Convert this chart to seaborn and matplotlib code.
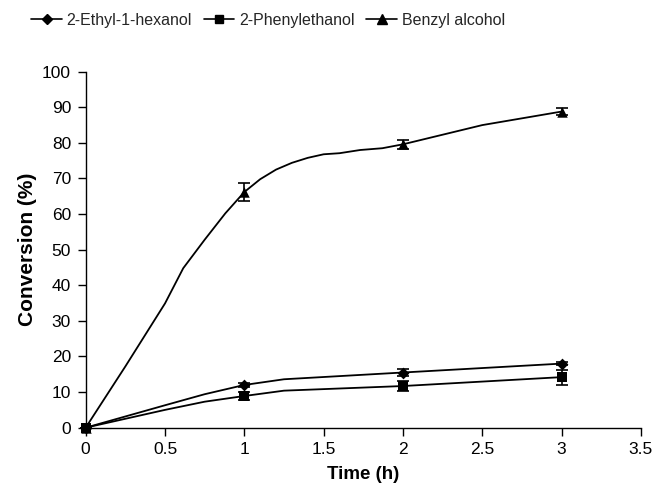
import matplotlib
matplotlib.use("Agg")
import matplotlib.pyplot as plt
from matplotlib.lines import Line2D
import seaborn as sns
import pandas as pd

# Measured points (with error bars)
time_points = [0, 1, 2, 3]
ethyl_vals = [0, 12.0, 15.5, 18.0]
ethyl_err = [0, 0.6, 1.1, 0.5]
phenyl_vals = [0, 8.9, 11.7, 14.2]
phenyl_err = [0, 1.2, 1.5, 2.1]
benzyl_vals = [0, 66.2, 79.6, 88.8]
benzyl_err = [0, 2.5, 1.2, 0.9]

# Trend lines
ethyl_curve_t = [0, 0.5, 0.75, 1.0, 1.25, 2.0, 3.0]
ethyl_curve_y = [0, 6.3, 9.4, 12.0, 13.6, 15.5, 18.0]
phenyl_curve_t = [0, 0.5, 0.75, 1.0, 1.25, 2.0, 3.0]
phenyl_curve_y = [0, 5.0, 7.3, 8.9, 10.4, 11.7, 14.2]
benzyl_curve_t = [0, 0.25, 0.5, 0.615, 0.75, 0.88, 1.0, 1.1, 1.2, 1.3, 1.4, 1.5, 1.6, 1.73, 1.87, 2.0, 2.5, 3.0]
benzyl_curve_y = [0, 17.2, 34.9, 44.8, 52.8, 60.2, 66.2, 69.8, 72.5, 74.4, 75.8, 76.8, 77.1, 78.0, 78.5, 79.6, 85.0, 88.8]

names = ["2-Ethyl-1-hexanol", "2-Phenylethanol", "Benzyl alcohol"]
markers = ["D", "s", "^"]
msizes = [6, 6.5, 7.5]

sns.set_theme(style="white")
plt.rcParams['font.family'] = ['Liberation Sans', 'DejaVu Sans']

fig = plt.figure(figsize=(6.57, 4.86), dpi=100)
ax = fig.add_axes([0.1304, 0.12, 0.9756 - 0.1304, 0.8525 - 0.12])

curves = [(ethyl_curve_t, ethyl_curve_y), (phenyl_curve_t, phenyl_curve_y), (benzyl_curve_t, benzyl_curve_y)]
points = [(ethyl_vals, ethyl_err), (phenyl_vals, phenyl_err), (benzyl_vals, benzyl_err)]

for (ct, cy), (v, e), m, ms in zip(curves, points, markers, msizes):
    df = pd.DataFrame({"t": ct, "y": cy})
    sns.lineplot(data=df, x="t", y="y", ax=ax, color="black", linewidth=1.3,
                 sort=False, estimator=None, legend=False)
    ax.errorbar(time_points, v, yerr=e, fmt="none", ecolor="black",
                elinewidth=1.2, capsize=4.5, capthick=1.2, clip_on=False, zorder=3)
    dfp = pd.DataFrame({"t": time_points, "y": v})
    sns.scatterplot(data=dfp, x="t", y="y", ax=ax, marker=m, s=ms**2, color="black",
                    edgecolor="black", linewidth=0, clip_on=False, zorder=4, legend=False)

ax.set_xlim(0, 3.5)
ax.set_ylim(0, 100)
ax.set_xticks([0, 0.5, 1, 1.5, 2, 2.5, 3, 3.5])
ax.set_xticklabels(["0", "0.5", "1", "1.5", "2", "2.5", "3", "3.5"])
ax.set_yticks(range(0, 101, 10))
ax.tick_params(axis="both", direction="out", length=5.5, width=1, color="black",
               labelsize=12.5, labelcolor="black", bottom=True, left=True, pad=5)
for s in ["top", "right"]:
    ax.spines[s].set_visible(False)
for s in ["left", "bottom"]:
    ax.spines[s].set_color("black")
    ax.spines[s].set_linewidth(1)
ax.set_xlabel("Time (h)", fontsize=13.5, fontweight="bold", color="black", labelpad=6)
ax.set_ylabel("Conversion (%)", fontsize=15, fontweight="bold", color="black", labelpad=4)

handles = [Line2D([0], [0], color="black", lw=1.2, marker=m, markersize=ms * 0.9,
                  markerfacecolor="black", markeredgecolor="black")
           for m, ms in zip(markers, msizes)]
fig.legend(handles, names, loc="upper center", bbox_to_anchor=(0.408, 1.003), ncol=3,
           frameon=False, fontsize=11.5, handlelength=1.9, handletextpad=0.3,
           columnspacing=0.75)

fig.savefig("out.png", dpi=100)
